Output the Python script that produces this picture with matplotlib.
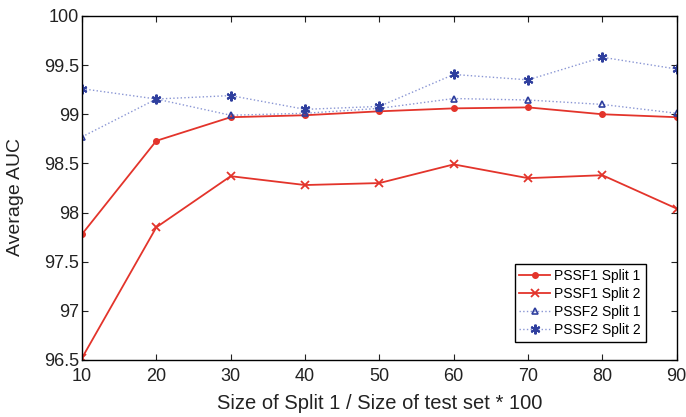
import matplotlib.pyplot as plt

plt.rcParams['font.family'] = ['Liberation Sans', 'DejaVu Sans']

# data
split_size = [10, 20, 30, 40, 50, 60, 70, 80, 90]
pssf1_split1 = [97.78, 98.73, 98.97, 98.99, 99.03, 99.06, 99.07, 99.00, 98.97]
pssf1_split2 = [96.52, 97.85, 98.37, 98.28, 98.30, 98.49, 98.35, 98.38, 98.04]
pssf2_split1 = [98.77, 99.155, 98.99, 99.01, 99.06, 99.16, 99.145, 99.10, 99.01]
pssf2_split2 = [99.26, 99.155, 99.19, 99.05, 99.08, 99.405, 99.35, 99.58, 99.46]

red = '#e3342b'
blue = '#2f3f9e'
light_blue = '#8a96d4'

fig = plt.figure(figsize=(6.86, 4.17), dpi=100)
ax = fig.add_axes([0.1195, 0.1367, 0.867, 0.825])

ax.plot(split_size, pssf1_split1, color=red, lw=1.3, marker='o', ms=4,
        label='PSSF1 Split 1')
ax.plot(split_size, pssf1_split2, color=red, lw=1.3, marker='x', ms=6,
        mew=1.3, label='PSSF1 Split 2')
ax.plot(split_size, pssf2_split1, color=light_blue, lw=1, ls=':', marker='^',
        ms=5, mfc='none', mec=blue, mew=1.2, label='PSSF2 Split 1')
ax.plot(split_size, pssf2_split2, color=light_blue, lw=1, ls=':',
        marker=(6, 2, 0), ms=7, mec=blue, mew=1.5, label='PSSF2 Split 2')

ax.set_xlim(10, 90)
ax.set_ylim(96.5, 100)
ax.set_xticks(split_size)
ax.set_yticks([96.5, 97, 97.5, 98, 98.5, 99, 99.5, 100])
ax.set_yticklabels(['96.5', '97', '97.5', '98', '98.5', '99', '99.5', '100'])
ax.tick_params(direction='in', top=True, right=True, labelsize=13,
               length=4, pad=2, colors='#222222')
ax.tick_params(axis='x', pad=5.5)
for s in ax.spines.values():
    s.set_linewidth(1.0)

ax.set_xlabel('Size of Split 1 / Size of test set * 100', fontsize=14.5,
              color='#222222', labelpad=7)
ax.set_ylabel('Average AUC', fontsize=14, color='#222222')
ax.yaxis.set_label_coords(-0.0975, 0.474)

leg = ax.legend(loc='lower right', bbox_to_anchor=(0.948, 0.052), fontsize=10,
                fancybox=False, edgecolor='black', framealpha=1,
                handlelength=2.2, borderpad=0.35, labelspacing=0.3,
                handletextpad=0.3, borderaxespad=0)
leg.get_frame().set_linewidth(1.0)

fig.savefig('out.png', dpi=100)
